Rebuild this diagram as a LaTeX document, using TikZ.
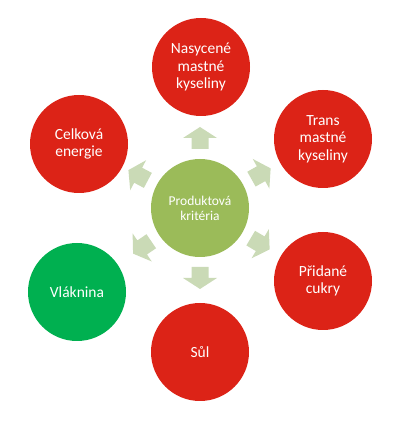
\documentclass[tikz,border=0pt]{standalone}
\usepackage{fontspec}
\setmainfont{Carlito}
\usetikzlibrary{calc}
\definecolor{redc}{HTML}{DC2317}
\definecolor{greenc}{HTML}{00B050}
\definecolor{centerc}{HTML}{9BBB59}
\definecolor{arrowc}{HTML}{CADAB6}
\tikzset{
  outer/.style={circle, minimum size=98pt, inner sep=0pt, text=white, align=center,
    font=\fontsize{15.5}{17.5}\selectfont},
  redcirc/.style={outer, fill=redc},
  greencirc/.style={outer, fill=greenc},
  centercirc/.style={circle, minimum size=98pt, inner sep=0pt, fill=centerc, text=white,
    align=center, font=\fontsize{13.5}{15}\selectfont},
  blockarrow/.style={fill=arrowc}
}
\begin{document}
\begin{tikzpicture}[x=1pt,y=1pt]
\useasboundingbox (0,0) rectangle (406,424);
\node[centercirc] (c) at (200,216) {Produktová\\kritéria};
\node[redcirc] (t) at (201,357) {Nasycené\\mastné\\kyseliny};
\node[redcirc] (ur) at (323,285) {Trans\\mastné\\kyseliny};
\node[redcirc] (lr) at (323,143) {Přidané\\cukry};
\node[redcirc] (b) at (200,72) {Sůl};
\node[greencirc] (ll) at (77,132) {Vláknina};
\node[redcirc] (ul) at (79,280) {Celková\\energie};
\foreach \tgt/\ang in {t/90, ur/29.3, lr/-30.7, b/-90, ll/-145.7, ul/152.1}{
  \begin{scope}[shift={(c.center)}, rotate=\ang]
    \fill[blockarrow] (59,-8.5) -- (70,-8.5) -- (70,-17) -- (81,0) -- (70,17) -- (70,8.5) -- (59,8.5) -- cycle;
  \end{scope}
}
\end{tikzpicture}
\end{document}
